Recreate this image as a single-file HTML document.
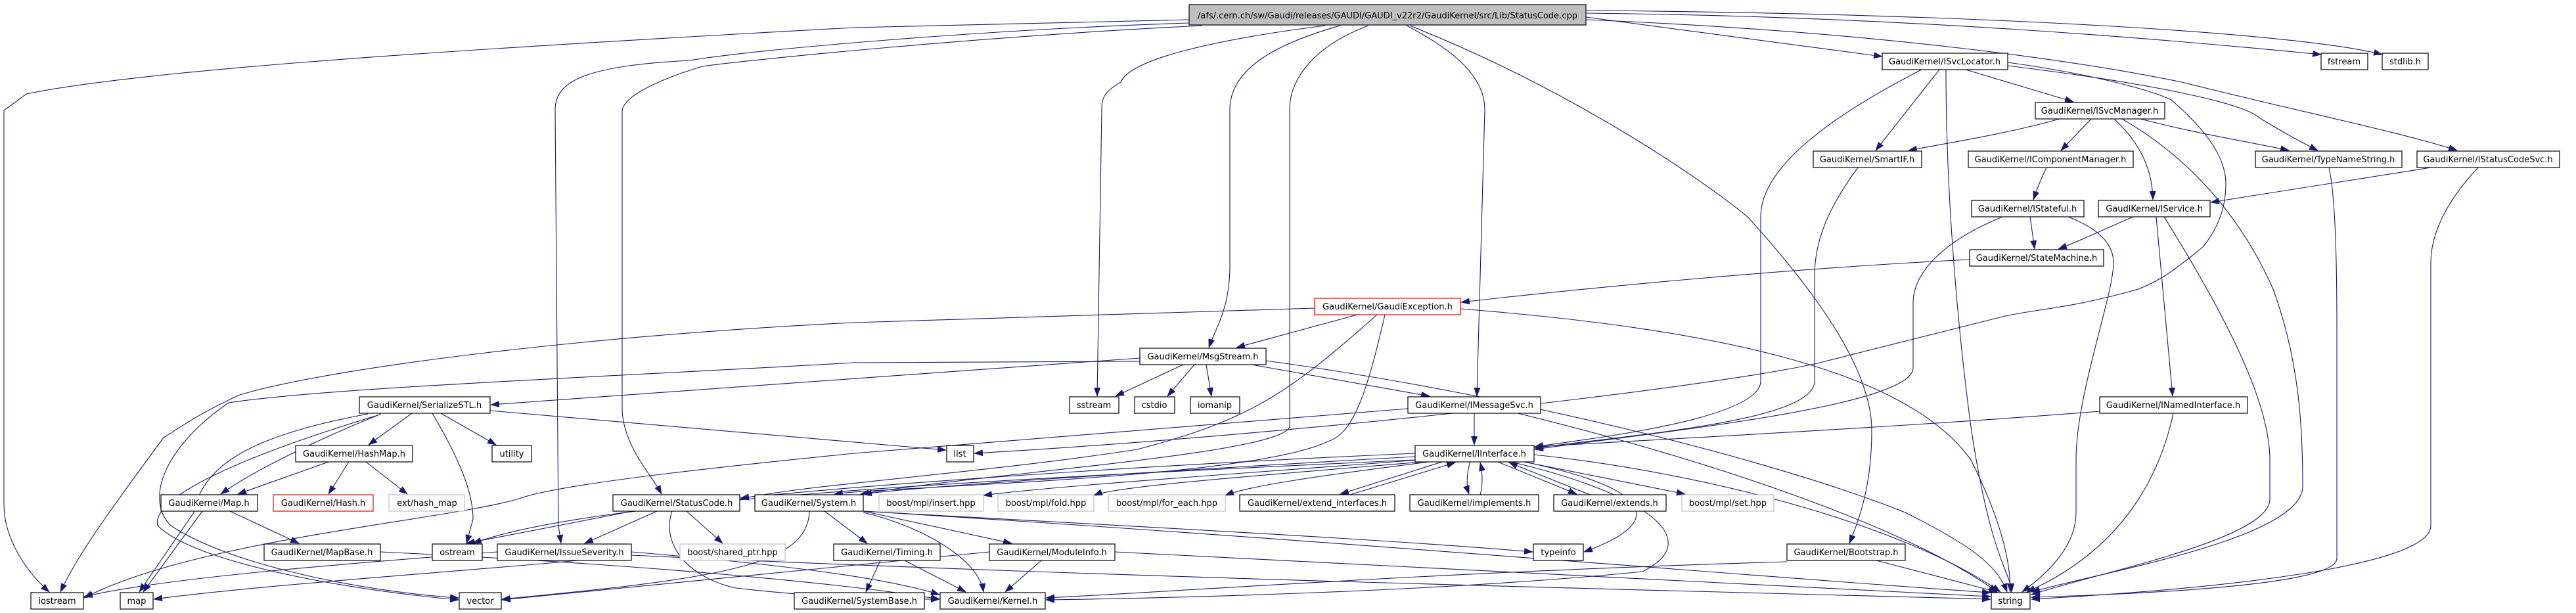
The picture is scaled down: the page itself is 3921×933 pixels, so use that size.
<!DOCTYPE html>
<html><head><meta charset="utf-8"><style>
html,body{margin:0;padding:0;background:#fff;}
svg{display:block;}
text{font-family:"DejaVu Sans","Liberation Sans",sans-serif;font-size:13px;fill:#000;}
.n{fill:#fff;stroke:#000;stroke-width:1.2;}
.g{fill:#fff;stroke:#bfbfbf;stroke-width:1.2;}
.r{fill:#fff;stroke:#ff0000;stroke-width:1.2;}
path{fill:none;stroke:#191970;stroke-width:1.1;}
</style></head><body>
<svg width="3921" height="933" viewBox="0 0 3921 933" xmlns="http://www.w3.org/2000/svg">
<defs><marker id="a" markerUnits="userSpaceOnUse" markerWidth="14" markerHeight="10" refX="13" refY="5" orient="auto"><polygon points="0,0 14,5 0,10" fill="#191970"/></marker></defs>
<g marker-end="url(#a)">
<path d="M1810,30 L1300,42 C600,80 200,110 40,143 L6,168 L6,768 C6,820 40,870 75,901"/>
<path d="M1810,35 C1500,45 1150,75 1050,92 C900,100 845,120 845,167 L850,800 L854,827"/>
<path d="M1830,39 C1500,55 1150,90 1069,101 C990,125 947,150 947,170 L947,625 C950,680 990,720 1007,752"/>
<path d="M2017,39 C1850,60 1720,90 1706,125 C1680,140 1677,150 1677,167 L1670,603"/>
<path d="M2040,39 C1930,70 1872,110 1872,167 L1872,405 C1872,470 1850,500 1840,529"/>
<path d="M2083,39 C2000,70 1963,120 1963,167 L1963,648 C1963,690 1500,720 1310,752"/>
<path d="M2141,39 C2220,80 2260,120 2260,167 L2248,603"/>
<path d="M2146,39 C2400,140 2600,280 2660,330 C2760,440 2849,560 2849,655 C2849,740 2830,790 2815,827"/>
<path d="M2414,26 C2600,50 2750,70 2865,86"/>
<path d="M2414,20 C2900,25 3300,60 3533,83"/>
<path d="M2414,16 C3000,20 3500,50 3626,83"/>
<path d="M2414,30 C2900,50 3200,100 3321,125 C3500,170 3650,200 3740,229"/>
<path d="M2992,106 L3156,155"/>
<path d="M2952,106 L2855,229"/>
<path d="M2962,106 C2962,300 2980,500 3000,650 C3030,850 3060,870 3062,901"/>
<path d="M2925,106 C2800,170 2680,250 2680,330 L2680,580 C2680,640 2400,670 2336,680"/>
<path d="M3056,100 C3300,130 3420,160 3440,180 C3490,210 3510,220 3528,229"/>
<path d="M3056,95 C3200,115 3280,140 3305,152 C3360,200 3388,240 3388,280 C3388,330 3365,360 3354,375 C3300,420 3280,430 3255,440 C3150,470 3100,470 3048,482 C2900,520 2800,545 2766,553 C2600,590 2000,660 1483,690"/>
<path d="M3135,181 C3050,205 2950,220 2905,229"/>
<path d="M3183,181 L3137,229"/>
<path d="M3218,181 C3260,220 3276,260 3277,304"/>
<path d="M3258,181 C3350,205 3420,215 3484,229"/>
<path d="M3230,181 C3350,250 3420,350 3460,440 C3500,550 3505,650 3505,740 C3505,820 3200,870 3092,901"/>
<path d="M2828,255 C2780,320 2762,370 2762,420 L2762,580 C2762,640 2500,660 2336,682"/>
<path d="M3115,255 C3105,275 3100,290 3095,304"/>
<path d="M3090,330 L3097,379"/>
<path d="M3048,330 C2950,370 2912,420 2912,460 L2912,560 C2912,620 2500,660 2336,684"/>
<path d="M3148,330 C3200,350 3217,375 3217,400 C3217,450 3160,600 3160,700 L3160,780 C3160,830 3120,870 3078,901"/>
<path d="M3247,330 C3200,350 3170,365 3133,379"/>
<path d="M3282,330 L3307,603"/>
<path d="M3294,330 C3400,500 3455,620 3455,700 L3455,760 C3455,820 3200,870 3092,905"/>
<path d="M3700,255 L3365,308"/>
<path d="M3772,255 C3720,310 3700,360 3700,400 L3700,800 C3700,860 3400,895 3092,912"/>
<path d="M3545,255 C3555,300 3557,400 3557,500 L3557,850 C3557,880 3400,900 3092,909"/>
<path d="M2998,395 C2700,410 2400,440 2224,460"/>
<path d="M2066,479 L1882,529"/>
<path d="M2001,469 L1300,491 C900,510 500,560 365,601 C300,630 260,660 249,666 C180,760 120,840 92,901"/>
<path d="M2096,479 C1960,600 1900,640 1731,684 C1500,720 1200,740 1127,760"/>
<path d="M2108,479 C2080,600 2060,660 2021,672 C1900,730 1350,740 1270,752"/>
<path d="M2223,470 C2600,500 2900,560 3000,700 C3050,800 3060,860 3060,901"/>
<path d="M1801,555 L1698,603"/>
<path d="M1818,555 L1777,603"/>
<path d="M1836,555 L1844,603"/>
<path d="M1905,555 L2176,603"/>
<path d="M1735,545 L747,616"/>
<path d="M1927,549 C2300,600 2700,700 2900,780 C3000,830 3040,860 3055,901"/>
<path d="M1735,550 L1300,552 C900,575 500,590 348,613 C250,680 220,760 260,800 C350,860 550,900 698,910"/>
<path d="M627,629 L561,677"/>
<path d="M671,629 L755,677"/>
<path d="M580,630 C480,670 380,720 336,752"/>
<path d="M658,629 C700,700 720,750 720,790 L710,827"/>
<path d="M746,625 L1440,685"/>
<path d="M560,630 C400,660 310,700 295,780 L212,901"/>
<path d="M575,632 C350,700 230,760 240,800 C300,860 550,900 698,913"/>
<path d="M500,703 L362,752"/>
<path d="M531,703 L500,752"/>
<path d="M557,703 L620,752"/>
<path d="M350,778 L455,827"/>
<path d="M308,778 L218,901"/>
<path d="M579,840 C1000,860 1300,890 1430,912"/>
<path d="M2244,629 L2244,677"/>
<path d="M2310,629 C2600,700 2900,800 3040,901"/>
<path d="M2143,622 C1800,650 1400,680 1300,690 C1000,720 850,740 796,757 C700,790 300,820 128,910"/>
<path d="M3196,626 C2900,650 2500,670 2336,680"/>
<path d="M3308,629 C3280,760 3200,850 3085,901"/>
<path d="M2154,690 C1700,710 1300,740 1127,758"/>
<path d="M2154,695 C1800,715 1400,740 1314,752"/>
<path d="M2160,700 C1900,720 1600,740 1497,754"/>
<path d="M2165,703 C1900,725 1700,740 1665,754"/>
<path d="M2175,703 C2000,725 1900,740 1865,754"/>
<path d="M2195,703 L2040,752"/>
<path d="M2055,753 L2215,704"/>
<path d="M2238,703 C2232,720 2232,740 2236,752"/>
<path d="M2253,753 C2257,740 2257,720 2253,704"/>
<path d="M2280,703 L2400,752"/>
<path d="M2420,753 L2297,704"/>
<path d="M2320,703 L2565,752"/>
<path d="M2154,700 C1500,730 900,760 720,827"/>
<path d="M2320,703 C2500,740 2550,790 2411,840"/>
<path d="M2300,703 C2500,750 2600,820 2500,870 C2200,900 1800,910 1592,913"/>
<path d="M2335,692 C2600,720 2900,800 3045,901"/>
<path d="M963,778 L710,827"/>
<path d="M1000,778 L890,827"/>
<path d="M1045,778 L1100,827"/>
<path d="M1023,778 C1005,830 1050,880 1120,895 C1250,910 1350,912 1430,912"/>
<path d="M1255,778 L1320,827"/>
<path d="M1314,778 L1540,827"/>
<path d="M1232,778 C1230,860 1100,880 764,912"/>
<path d="M1314,780 C1400,800 1490,850 1497,901"/>
<path d="M1314,778 C1700,800 2100,820 2333,840"/>
<path d="M1314,778 C2000,820 2700,880 3030,902"/>
<path d="M1340,853 L1318,901"/>
<path d="M1377,853 L1470,901"/>
<path d="M1585,853 L1530,901"/>
<path d="M1697,840 C2300,870 2800,900 3030,908"/>
<path d="M1506,840 C1200,870 900,900 764,913"/>
<path d="M757,840 C500,860 250,880 128,908"/>
<path d="M880,853 C700,870 400,890 234,912"/>
<path d="M961,840 C1200,860 1350,880 1430,905"/>
<path d="M961,845 C1700,880 2600,900 3030,912"/>
<path d="M2720,855 C2200,870 1800,900 1592,910"/>
<path d="M2856,853 L3040,901"/>
</g>
<g>
<rect x="1810" y="7" width="604" height="31" fill="#bfbfbf" stroke="#000" stroke-width="1.2"/>
<text x="2112" y="28" text-anchor="middle">/afs/.cern.ch/sw/Gaudi/releases/GAUDI/GAUDI_v22r2/GaudiKernel/src/Lib/StatusCode.cpp</text>
</g>
<g text-anchor="middle">
<!-- row 1 y81 -->
<rect class="n" x="2865" y="81" width="191" height="25"/><text x="2960" y="98">GaudiKernel/ISvcLocator.h</text>
<rect class="n" x="3533" y="81" width="71" height="25"/><text x="3568" y="98">fstream</text>
<rect class="n" x="3626" y="81" width="70" height="25"/><text x="3661" y="98">stdlib.h</text>
<!-- row2 y156 -->
<rect class="n" x="3098" y="156" width="197" height="25"/><text x="3196" y="173">GaudiKernel/ISvcManager.h</text>
<!-- row3 y230 -->
<rect class="n" x="2760" y="230" width="165" height="25"/><text x="2842" y="247">GaudiKernel/SmartIF.h</text>
<rect class="n" x="2996" y="230" width="251" height="25"/><text x="3121" y="247">GaudiKernel/IComponentManager.h</text>
<rect class="n" x="3433" y="230" width="223" height="25"/><text x="3544" y="247">GaudiKernel/TypeNameString.h</text>
<rect class="n" x="3679" y="230" width="217" height="25"/><text x="3787" y="247">GaudiKernel/IStatusCodeSvc.h</text>
<!-- row4 y305 -->
<rect class="n" x="3001" y="305" width="171" height="25"/><text x="3086" y="322">GaudiKernel/IStateful.h</text>
<rect class="n" x="3194" y="305" width="170" height="25"/><text x="3279" y="322">GaudiKernel/IService.h</text>
<!-- row5 y380 -->
<rect class="n" x="2998" y="380" width="204" height="25"/><text x="3100" y="397">GaudiKernel/StateMachine.h</text>
<!-- row6 y454 -->
<rect class="r" x="2001" y="454" width="222" height="25"/><text x="2112" y="471">GaudiKernel/GaudiException.h</text>
<!-- row7 y530 -->
<rect class="n" x="1735" y="530" width="192" height="25"/><text x="1831" y="547">GaudiKernel/MsgStream.h</text>
<!-- row8 y604 -->
<rect class="n" x="547" y="604" width="199" height="25"/><text x="646" y="621">GaudiKernel/SerializeSTL.h</text>
<rect class="n" x="1628" y="604" width="75" height="25"/><text x="1665" y="621">sstream</text>
<rect class="n" x="1727" y="604" width="61" height="25"/><text x="1757" y="621">cstdio</text>
<rect class="n" x="1812" y="604" width="75" height="25"/><text x="1849" y="621">iomanip</text>
<rect class="n" x="2143" y="604" width="202" height="25"/><text x="2244" y="621">GaudiKernel/IMessageSvc.h</text>
<rect class="n" x="3196" y="604" width="225" height="25"/><text x="3308" y="621">GaudiKernel/INamedInterface.h</text>
<!-- row9 y678 -->
<rect class="n" x="450" y="678" width="178" height="25"/><text x="539" y="695">GaudiKernel/HashMap.h</text>
<rect class="n" x="749" y="678" width="60" height="25"/><text x="779" y="695">utility</text>
<rect class="n" x="1441" y="678" width="41" height="25"/><text x="1461" y="695">list</text>
<rect class="n" x="2154" y="678" width="181" height="25"/><text x="2244" y="695">GaudiKernel/IInterface.h</text>
<!-- row10 y753 -->
<rect class="n" x="245" y="753" width="147" height="25"/><text x="318" y="770">GaudiKernel/Map.h</text>
<rect class="r" x="416" y="753" width="152" height="25"/><text x="492" y="770">GaudiKernel/Hash.h</text>
<rect class="g" x="592" y="753" width="115" height="25"/><text x="650" y="770">ext/hash_map</text>
<rect class="n" x="933" y="753" width="193" height="25"/><text x="1030" y="770">GaudiKernel/StatusCode.h</text>
<rect class="n" x="1149" y="753" width="165" height="25"/><text x="1231" y="770">GaudiKernel/System.h</text>
<rect class="g" x="1338" y="753" width="159" height="25"/><text x="1417" y="770">boost/mpl/insert.hpp</text>
<rect class="g" x="1519" y="753" width="146" height="25"/><text x="1592" y="770">boost/mpl/fold.hpp</text>
<rect class="g" x="1687" y="753" width="178" height="25"/><text x="1776" y="770">boost/mpl/for_each.hpp</text>
<rect class="n" x="1887" y="753" width="236" height="25"/><text x="2005" y="770">GaudiKernel/extend_interfaces.h</text>
<rect class="n" x="2146" y="753" width="196" height="25"/><text x="2244" y="770">GaudiKernel/implements.h</text>
<rect class="n" x="2365" y="753" width="171" height="25"/><text x="2450" y="770">GaudiKernel/extends.h</text>
<rect class="g" x="2560" y="753" width="140" height="25"/><text x="2630" y="770">boost/mpl/set.hpp</text>
<!-- row11 y828 -->
<rect class="n" x="402" y="828" width="177" height="25"/><text x="490" y="845">GaudiKernel/MapBase.h</text>
<rect class="n" x="658" y="828" width="76" height="25"/><text x="696" y="845">ostream</text>
<rect class="n" x="757" y="828" width="204" height="25"/><text x="859" y="845">GaudiKernel/IssueSeverity.h</text>
<rect class="g" x="1035" y="828" width="160" height="25"/><text x="1115" y="845">boost/shared_ptr.hpp</text>
<rect class="n" x="1269" y="828" width="162" height="25"/><text x="1350" y="845">GaudiKernel/Timing.h</text>
<rect class="n" x="1506" y="828" width="191" height="25"/><text x="1601" y="845">GaudiKernel/ModuleInfo.h</text>
<rect class="n" x="2334" y="828" width="76" height="25"/><text x="2372" y="845">typeinfo</text>
<rect class="n" x="2720" y="828" width="180" height="25"/><text x="2810" y="845">GaudiKernel/Bootstrap.h</text>
<!-- row12 y902 -->
<rect class="n" x="47" y="902" width="80" height="25"/><text x="87" y="919">iostream</text>
<rect class="n" x="183" y="902" width="50" height="25"/><text x="208" y="919">map</text>
<rect class="n" x="699" y="902" width="64" height="25"/><text x="731" y="919">vector</text>
<rect class="n" x="1209" y="902" width="198" height="25"/><text x="1308" y="919">GaudiKernel/SystemBase.h</text>
<rect class="n" x="1431" y="902" width="160" height="25"/><text x="1511" y="919">GaudiKernel/Kernel.h</text>
<rect class="n" x="3031" y="902" width="59" height="25"/><text x="3060" y="919">string</text>
</g>
</svg>
</body></html>
